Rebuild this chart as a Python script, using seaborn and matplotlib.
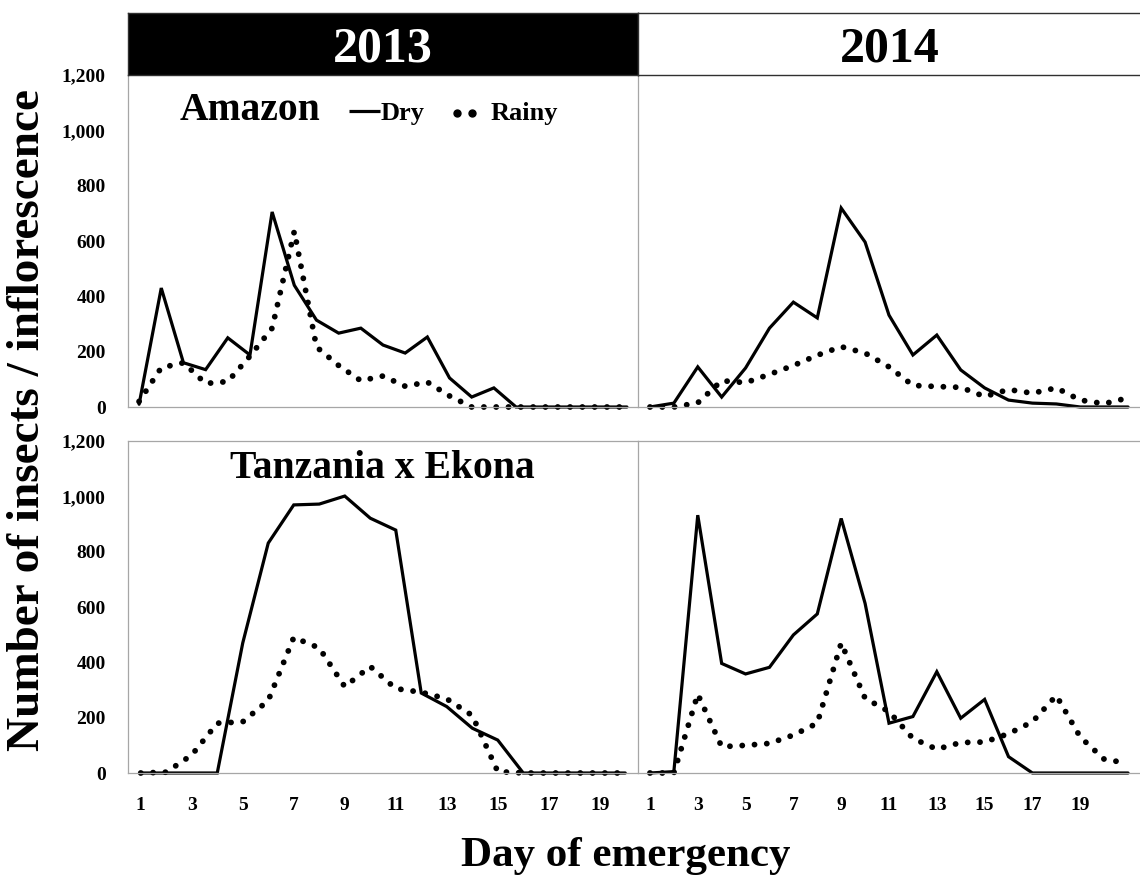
import matplotlib
matplotlib.use("Agg")
import matplotlib.pyplot as plt
import seaborn as sns
from matplotlib.ticker import FuncFormatter

# ---------------- data ----------------
days_amazon_2013 = list(range(1, 24))
amazon_2013_dry = [10, 430, 160, 135, 250, 188, 705, 440, 314, 267, 285, 224,
                   195, 253, 105, 36, 69, 0, 0, 0, 0, 0, 0]
amazon_2013_rainy = [20, 142, 160, 85, 92, 184, 285, 635, 217, 150, 95, 112,
                     75, 90, 40, 0, 0, 0, 0, 0, 0, 0, 0]

days_amazon_2014 = list(range(1, 22))
amazon_2014_dry = [0, 14, 145, 36, 141, 285, 379, 322, 719, 596, 332, 188,
                   260, 134, 69, 25, 14, 11, 0, 0, 0]
amazon_2014_rainy = [0, 0, 15, 95, 88, 118, 150, 187, 218, 195, 145, 78,
                     74, 71, 38, 63, 50, 69, 25, 12, 33]

days_tanzania_2013 = list(range(1, 21))
tanzania_2013_dry = [0, 0, 0, 0, 470, 831, 969, 972, 1001, 921, 878, 289,
                     240, 162, 119, 0, 0, 0, 0, 0]
tanzania_2013_rainy = [0, 3, 65, 180, 185, 262, 490, 452, 312, 385, 305, 292,
                       268, 208, 5, 0, 0, 0, 0, 0]

days_tanzania_2014 = list(range(1, 22))
tanzania_2014_dry = [0, 5, 932, 396, 358, 382, 499, 575, 920, 613, 180, 204,
                     366, 198, 266, 59, 0, 0, 0, 0, 0]
tanzania_2014_rainy = [0, 0, 285, 95, 100, 107, 137, 180, 470, 270, 222, 125,
                       86, 110, 112, 142, 185, 280, 130, 50, 35]

year_labels = ["2013", "2014"]
cultivar_labels = ["Amazon", "Tanzania x Ekona"]
season_labels = ["Dry", "Rainy"]
x_tick_days = [1, 3, 5, 7, 9, 11, 13, 15, 17, 19]
y_tick_values = [0, 200, 400, 600, 800, 1000, 1200]
x_title = "Day of emergency"
y_title = "Number of insects / inflorescence"

# ---------------- style ----------------
sns.set_style("white")
plt.rcParams["font.family"] = ["Liberation Serif", "DejaVu Serif"]
plt.rcParams["font.weight"] = "bold"
plt.rcParams["text.color"] = "black"
plt.rcParams["axes.labelcolor"] = "black"
plt.rcParams["xtick.color"] = "black"
plt.rcParams["ytick.color"] = "black"

W, H = 1140, 877
fig = plt.figure(figsize=(W / 100, H / 100), dpi=100)
fig.patch.set_facecolor("white")


def rect(x0, y0, x1, y1):
    return [x0 / W, 1 - y1 / H, (x1 - x0) / W, (y1 - y0) / H]


GRAY = "#a6a6a6"
ax_tl = fig.add_axes(rect(128, 75, 638, 407))
ax_tr = fig.add_axes(rect(638, 75, 1140, 407))
ax_bl = fig.add_axes(rect(128, 441, 638, 773))
ax_br = fig.add_axes(rect(638, 441, 1140, 773))

panels = [
    (ax_tl, days_amazon_2013, amazon_2013_dry, amazon_2013_rainy, (0.5, 23.5), True, False, True),
    (ax_tr, days_amazon_2014, amazon_2014_dry, amazon_2014_rainy, (0.5, 21.07), False, False, True),
    (ax_bl, days_tanzania_2013, tanzania_2013_dry, tanzania_2013_rainy, (0.5, 20.5), True, True, False),
    (ax_br, days_tanzania_2014, tanzania_2014_dry, tanzania_2014_rainy, (0.5, 21.07), False, True, False),
]

for ax, days, dry, rainy, xlim, ylab, xlab, top in panels:
    ax.set_facecolor("white")
    sns.lineplot(x=days, y=dry, ax=ax, color="black", linewidth=2.3,
                 estimator=None, errorbar=None, clip_on=False,
                 solid_joinstyle="miter")
    sns.lineplot(x=days, y=rainy, ax=ax, color="black", linewidth=4.2,
                 linestyle=(0, (0.01, 2.1)), dash_capstyle="round",
                 estimator=None, errorbar=None, clip_on=False)
    ax.set_xlim(*xlim)
    ax.set_ylim(0, 1200)
    ax.set_xlabel("")
    ax.set_ylabel("")
    ax.set_yticks(y_tick_values)
    ax.yaxis.set_major_formatter(FuncFormatter(lambda v, p: f"{int(v):,}"))
    ax.set_xticks(x_tick_days)
    ax.set_xticklabels([str(d) for d in x_tick_days])
    ax.set_xticks([d + 0.5 for d in range(0, len(days) + 1)], minor=True)
    ax.tick_params(axis="x", which="major", length=0, pad=17,
                   labelsize=14, labelbottom=xlab, labelcolor="black")
    ax.tick_params(axis="x", which="minor", direction="inout", length=7,
                   width=0.8, color=GRAY)
    ax.tick_params(axis="y", which="major", direction="in", length=3,
                   width=0.8, color=GRAY, pad=16, labelsize=14,
                   labelleft=ylab, labelcolor="black")
    for lab in ax.get_xticklabels() + ax.get_yticklabels():
        lab.set_fontweight("bold")
    for side in ["left", "bottom", "top"]:
        ax.spines[side].set_color(GRAY)
        ax.spines[side].set_linewidth(0.9)
    ax.spines["right"].set_visible(False)
    if top:
        ax.spines["top"].set_visible(False)
    ax.grid(False)

# panel titles and legend
ax_tl.text(0.102, 0.8645, cultivar_labels[0], transform=ax_tl.transAxes,
           fontsize=28.5, fontweight="bold", ha="left", va="baseline")
ax_bl.text(0.2, 0.8886, cultivar_labels[1], transform=ax_bl.transAxes,
           fontsize=28.5, fontweight="bold", ha="left", va="baseline")

ax_tl.plot([0.433, 0.494], [0.893, 0.893], transform=ax_tl.transAxes,
           color="black", linewidth=2.3, solid_capstyle="butt", clip_on=False)
ax_tl.text(0.496, 0.8645, season_labels[0], transform=ax_tl.transAxes,
           fontsize=19, fontweight="bold", ha="left", va="baseline")
ax_tl.plot([0.645, 0.675], [0.887, 0.887], transform=ax_tl.transAxes,
           linestyle="none", marker="o", markersize=5, color="black",
           clip_on=False)
ax_tl.text(0.710, 0.8645, season_labels[1], transform=ax_tl.transAxes,
           fontsize=19, fontweight="bold", ha="left", va="baseline")

# year headers
h_l = fig.add_axes(rect(128, 13, 638, 75))
h_l.set_facecolor("black")
h_r = fig.add_axes(rect(638, 13, 1145, 75))
h_r.set_facecolor("white")
for hx in (h_l, h_r):
    hx.set_xticks([])
    hx.set_yticks([])
    for s in hx.spines.values():
        s.set_color("#303030")
        s.set_linewidth(1.0)
h_l.text(0.5, 0.21, year_labels[0], color="white", fontsize=36,
         fontweight="bold", ha="center", va="baseline", transform=h_l.transAxes)
h_r.text(0.497, 0.21, year_labels[1], color="black", fontsize=36,
         fontweight="bold", ha="center", va="baseline", transform=h_r.transAxes)

# axis titles
fig.text(28 / W, 1 - 420 / H, y_title, rotation=90, fontsize=34,
         fontweight="bold", ha="center", va="center")
fig.text(626 / W, 1 - 866 / H, x_title, fontsize=31, fontweight="bold",
         ha="center", va="baseline")

fig.savefig("out.png", dpi=100, facecolor="white")
